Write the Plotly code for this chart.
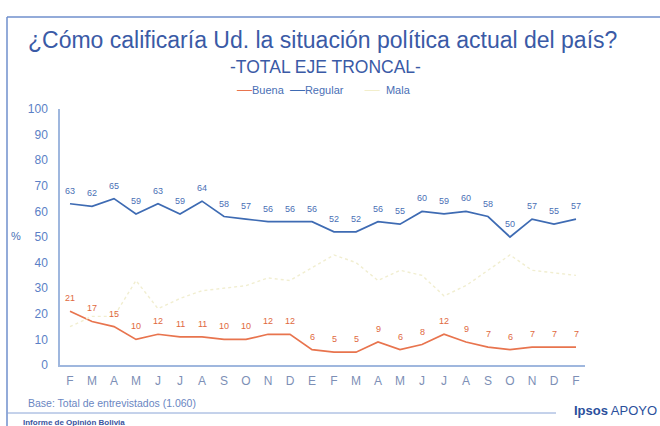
import plotly.graph_objects as go

months = ["F", "M", "A", "M", "J", "J", "A", "S", "O", "N", "D", "E",
          "F", "M", "A", "M", "J", "J", "A", "S", "O", "N", "D", "F"]
buena = [21, 17, 15, 10, 12, 11, 11, 10, 10, 12, 12, 6,
         5, 5, 9, 6, 8, 12, 9, 7, 6, 7, 7, 7]
regular = [63, 62, 65, 59, 63, 59, 64, 58, 57, 56, 56, 56,
           52, 52, 56, 55, 60, 59, 60, 58, 50, 57, 55, 57]
mala = [15, 19, 19, 33, 22, 26, 29, 30, 31, 34, 33, 38,
        43, 40, 33, 37, 35, 27, 31, 37, 43, 37, 36, 35]
ytick_vals = [0, 10, 20, 30, 40, 50, 60, 70, 80, 90, 100]

x = list(range(len(months)))

C_BUENA = "#e8744e"
C_REG = "#3e6bb3"
C_MALA = "#f1eed0"
C_TXT = "#3d5fa8"
C_AX = "#9fb7de"
FONT = "Liberation Sans"

fig = go.Figure()
fig.add_trace(go.Scatter(x=x, y=buena, mode="lines", name="Buena",
                         line=dict(color=C_BUENA, width=1.7)))
fig.add_trace(go.Scatter(x=x, y=regular, mode="lines", name="Regular",
                         line=dict(color=C_REG, width=1.7)))
fig.add_trace(go.Scatter(x=x, y=mala, mode="lines", name="Mala",
                         line=dict(color=C_MALA, width=1.4, dash="dot")))

ann = []
for xi, v in zip(x, regular):
    ann.append(dict(x=xi, y=v, xref="x", yref="y", text=str(v), showarrow=False,
                    xanchor="center", yanchor="middle", yshift=13,
                    font=dict(size=9, color="#4a6fb5", family=FONT)))
for xi, v in zip(x, buena):
    ann.append(dict(x=xi, y=v, xref="x", yref="y", text=str(v), showarrow=False,
                    xanchor="center", yanchor="middle", yshift=13,
                    font=dict(size=9, color="#e0683e", family=FONT)))

def px_x(p):
    return (p - 60) / 525.0

def px_y(p):
    return (365 - p) / 256.0

legend_text = (
    "<span style='color:%s;font-size:15px'>—</span>Buena&nbsp;&nbsp;"
    "<span style='color:%s;font-size:15px'>—</span>Regular&nbsp;&nbsp;&nbsp;&nbsp;&nbsp;&nbsp;&nbsp;"
    "<span style='color:%s;font-size:15px'>—</span>&nbsp;&nbsp;Mala" % (C_BUENA, C_REG, "#f2eecb")
)

def txt(px, py, text, size, color, xanchor="center", bold=False):
    return dict(x=px_x(px), y=px_y(py), xref="paper", yref="paper", showarrow=False,
                xanchor=xanchor, yanchor="middle",
                text=("<b>%s</b>" % text) if bold else text,
                font=dict(size=size, color=color, family=FONT))

ann += [
    txt(322, 40, "¿Cómo calificaría Ud. la situación política actual del país?", 23, "#3a5aa6"),
    txt(325, 67, "-TOTAL EJE TRONCAL-", 17.5, "#3a5aa6"),
    txt(324, 88, legend_text, 11, "#4a6fb5"),
    txt(16, 236, "%", 11, "#4a6fb5"),
    txt(26, 403, "Base: Total de entrevistados (1.060)", 10.5, "#6a86c2", xanchor="left"),
    txt(659, 410, "<b>Ipsos</b> APOYO", 13, "#2b4f9c", xanchor="right"),
    txt(21, 422, "Informe de Opinión Bolivia", 8, "#3a55a0", xanchor="left", bold=True),
]

shapes = [
    dict(type="line", xref="paper", yref="paper", x0=px_x(7), x1=px_x(7),
         y0=px_y(17), y1=px_y(430), line=dict(color="#6f8fcc", width=1.5)),
    dict(type="line", xref="paper", yref="paper", x0=px_x(7), x1=px_x(662),
         y0=px_y(17), y1=px_y(17), line=dict(color="#6f8fcc", width=1.5)),
    dict(type="line", xref="paper", yref="paper", x0=px_x(7), x1=px_x(556),
         y0=px_y(413), y1=px_y(413), line=dict(color="#8aa4d6", width=1)),
]

fig.update_layout(
    width=660, height=426,
    margin=dict(l=60, r=75, t=109, b=61),
    paper_bgcolor="white", plot_bgcolor="white",
    font=dict(family=FONT, color=C_TXT),
    showlegend=False,
    annotations=ann, shapes=shapes,
    xaxis=dict(range=[-10 / 22.0, -10 / 22.0 + 525 / 22.0], tickmode="array",
               tickvals=x, ticktext=months, showgrid=False, zeroline=False,
               showline=True, linecolor=C_AX, linewidth=1.5, ticks="",
               ticklabelstandoff=4,
               tickfont=dict(size=12, color="#7d8fb6"), fixedrange=True),
    yaxis=dict(range=[0, 100], tickmode="array", tickvals=ytick_vals,
               showgrid=False, zeroline=False, showline=True, linecolor=C_AX,
               linewidth=1.5, ticks="", ticklabelstandoff=8,
               tickfont=dict(size=12, color="#5b7fc6"), fixedrange=True),
)

fig.write_html("out.html", config={"displayModeBar": False},
               post_script="document.body.style.margin='0';")
